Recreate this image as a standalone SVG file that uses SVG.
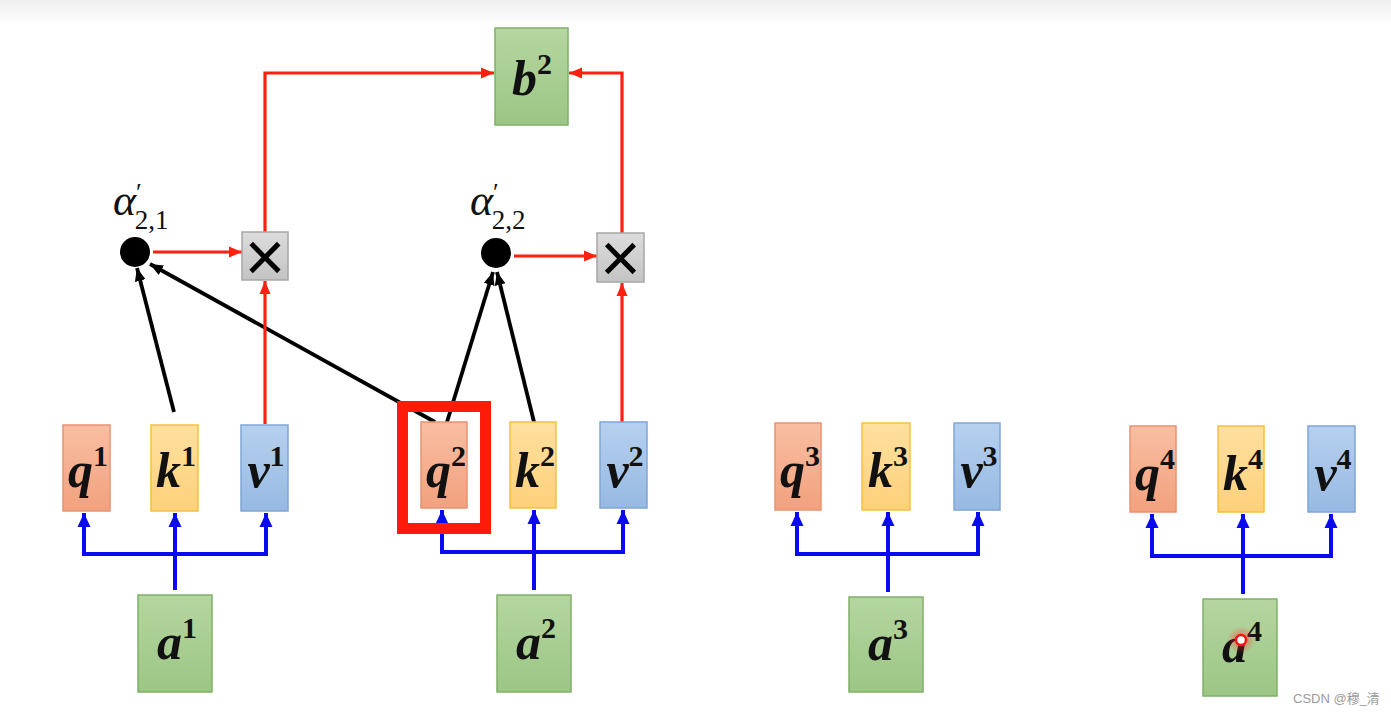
<svg xmlns="http://www.w3.org/2000/svg" width="1391" height="714" viewBox="0 0 1391 714">
<defs>
<linearGradient id="gTop" x1="0" y1="0" x2="0" y2="1"><stop offset="0" stop-color="#efefef"/><stop offset="1" stop-color="#ffffff"/></linearGradient>
<linearGradient id="gQ" x1="0" y1="0" x2="0" y2="1"><stop offset="0" stop-color="#f9bea2"/><stop offset="1" stop-color="#f2a17e"/></linearGradient>
<linearGradient id="gK" x1="0" y1="0" x2="0" y2="1"><stop offset="0" stop-color="#ffe0a0"/><stop offset="1" stop-color="#fdd07a"/></linearGradient>
<linearGradient id="gV" x1="0" y1="0" x2="0" y2="1"><stop offset="0" stop-color="#b6d0ef"/><stop offset="1" stop-color="#97b9e2"/></linearGradient>
<linearGradient id="gA" x1="0" y1="0" x2="0" y2="1"><stop offset="0" stop-color="#b5d6a0"/><stop offset="1" stop-color="#9cc685"/></linearGradient>
<linearGradient id="gX" x1="0" y1="0" x2="0" y2="1"><stop offset="0" stop-color="#dcdcdc"/><stop offset="1" stop-color="#c4c4c4"/></linearGradient>
<radialGradient id="gGlow"><stop offset="0" stop-color="#ff3030" stop-opacity="0.6"/><stop offset="1" stop-color="#ff3030" stop-opacity="0"/></radialGradient>
<marker id="aBlue" markerUnits="userSpaceOnUse" markerWidth="16" markerHeight="16" viewBox="0 0 16 16" refX="14" refY="8" orient="auto"><path d="M0,1.5 L14,8 L0,14.5 Z" fill="#0a0af0"/></marker>
<marker id="aRed" markerUnits="userSpaceOnUse" markerWidth="14" markerHeight="14" viewBox="0 0 14 14" refX="13" refY="7" orient="auto"><path d="M0,1.5 L13,7 L0,12.5 Z" fill="#ff2010"/></marker>
<marker id="aBlack" markerUnits="userSpaceOnUse" markerWidth="14" markerHeight="14" viewBox="0 0 14 14" refX="13" refY="7" orient="auto"><path d="M0,1.5 L13,7 L0,12.5 Z" fill="#000"/></marker>
</defs>
<style>
.q{fill:url(#gQ);stroke:#e89372;stroke-width:1.5}
.k{fill:url(#gK);stroke:#f5c040;stroke-width:1.5}
.v{fill:url(#gV);stroke:#7ea6d6;stroke-width:1.5}
.a{fill:url(#gA);stroke:#80b068;stroke-width:1.5}
.x{fill:url(#gX);stroke:#a6a6a6;stroke-width:1.5}
.lbl{font-family:"Liberation Serif",serif;font-weight:bold;fill:#111;text-anchor:middle}
.let{font-style:italic;font-size:50px}
.sup{font-style:normal;font-size:30px}
.blue{fill:none;stroke:#0a0af0;stroke-width:4}
.red{fill:none;stroke:#ff2010;stroke-width:3.2}
.blk{fill:none;stroke:#000;stroke-width:3.8}
.alpha{font-family:"Liberation Serif",serif;fill:#111;font-size:27px}
.mul{font-family:"Liberation Sans",sans-serif;font-size:70px;fill:#000;text-anchor:middle}
</style>
<rect x="0" y="0" width="1391" height="714" fill="#fff"/>
<rect x="0" y="0" width="1391" height="26" fill="url(#gTop)"/>

<g id="connectors">
<path class="blue" d="M175,590 V513" marker-end="url(#aBlue)"/>
<path class="blue" d="M84,554 H266"/>
<path class="blue" d="M84,556 V513" marker-end="url(#aBlue)"/>
<path class="blue" d="M266,556 V513" marker-end="url(#aBlue)"/>
<path class="blue" d="M534,590 V510" marker-end="url(#aBlue)"/>
<path class="blue" d="M442,552 H623"/>
<path class="blue" d="M442,554 V510" marker-end="url(#aBlue)"/>
<path class="blue" d="M623,554 V510" marker-end="url(#aBlue)"/>
<path class="blue" d="M888,592 V512" marker-end="url(#aBlue)"/>
<path class="blue" d="M797,554 H978"/>
<path class="blue" d="M797,556 V512" marker-end="url(#aBlue)"/>
<path class="blue" d="M978,556 V512" marker-end="url(#aBlue)"/>
<path class="blue" d="M1243,594 V514" marker-end="url(#aBlue)"/>
<path class="blue" d="M1152,556 H1331"/>
<path class="blue" d="M1152,558 V514" marker-end="url(#aBlue)"/>
<path class="blue" d="M1331,558 V514" marker-end="url(#aBlue)"/>
<path class="blk" d="M174,412 L137,268" marker-end="url(#aBlack)"/>
<path class="blk" d="M435,422 L150,264" marker-end="url(#aBlack)"/>
<path class="blk" d="M447,422 L493,272" marker-end="url(#aBlack)"/>
<path class="blk" d="M534,422 L497,272" marker-end="url(#aBlack)"/>
<path class="red" d="M153,252 H242" marker-end="url(#aRed)"/>
<path class="red" d="M514,256 H597" marker-end="url(#aRed)"/>
<path class="red" d="M265,424 V281" marker-end="url(#aRed)"/>
<path class="red" d="M622,422 V283" marker-end="url(#aRed)"/>
<path class="red" d="M265,232 V73 H494" marker-end="url(#aRed)"/>
<path class="red" d="M622,233 V73 H569" marker-end="url(#aRed)"/>
</g>

<g id="b2"><rect class="a" x="495" y="28" width="73" height="97"/><text class="lbl" x="532" y="95"><tspan class="let">b</tspan><tspan class="sup" dy="-21">2</tspan></text></g>

<g id="alpha21"><circle cx="135" cy="252" r="15" fill="#000"/>
<text class="alpha" x="113" y="215"><tspan font-size="44" font-style="italic">α</tspan><tspan font-size="26" dy="-14">′</tspan><tspan dx="-7" dy="28">2,1</tspan></text></g>
<g id="alpha22"><circle cx="496" cy="253" r="15" fill="#000"/>
<text class="alpha" x="470" y="215"><tspan font-size="44" font-style="italic">α</tspan><tspan font-size="26" dy="-14">′</tspan><tspan dx="-7" dy="28">2,2</tspan></text></g>

<g id="mul1"><rect class="x" x="242" y="232" width="46" height="48"/><text class="mul" x="265" y="281">×</text></g>
<g id="mul2"><rect class="x" x="597" y="233" width="47" height="49"/><text class="mul" x="620.5" y="282">×</text></g>

<g id="q1"><rect class="q" x="63" y="425" width="47" height="86"/><text class="lbl" x="88" y="487"><tspan class="let">q</tspan><tspan class="sup" dy="-21">1</tspan></text></g>
<g id="k1"><rect class="k" x="151" y="425" width="47" height="86"/><text class="lbl" x="176" y="487"><tspan class="let">k</tspan><tspan class="sup" dy="-21">1</tspan></text></g>
<g id="v1"><rect class="v" x="241" y="425" width="47" height="86"/><text class="lbl" x="266" y="487"><tspan class="let">v</tspan><tspan class="sup" dy="-21">1</tspan></text></g>
<g id="a1"><rect class="a" x="138" y="595" width="74" height="97"/><text class="lbl" x="177" y="659"><tspan class="let">a</tspan><tspan class="sup" dy="-21">1</tspan></text></g>

<g id="q2"><rect class="q" x="421" y="422" width="46" height="86"/><text class="lbl" x="446" y="487"><tspan class="let">q</tspan><tspan class="sup" dy="-21">2</tspan></text></g>
<g id="k2"><rect class="k" x="510" y="422" width="46" height="86"/><text class="lbl" x="535" y="487"><tspan class="let">k</tspan><tspan class="sup" dy="-21">2</tspan></text></g>
<g id="v2"><rect class="v" x="600" y="422" width="47" height="86"/><text class="lbl" x="625" y="487"><tspan class="let">v</tspan><tspan class="sup" dy="-21">2</tspan></text></g>
<g id="a2"><rect class="a" x="497" y="595" width="74" height="97"/><text class="lbl" x="536" y="659"><tspan class="let">a</tspan><tspan class="sup" dy="-21">2</tspan></text></g>

<g id="highlight"><rect x="402.5" y="406.5" width="83" height="122" fill="none" stroke="#ff1a0a" stroke-width="11"/></g>

<g id="q3"><rect class="q" x="775" y="423" width="46" height="87"/><text class="lbl" x="800" y="487"><tspan class="let">q</tspan><tspan class="sup" dy="-21">3</tspan></text></g>
<g id="k3"><rect class="k" x="862" y="423" width="48" height="87"/><text class="lbl" x="888" y="487"><tspan class="let">k</tspan><tspan class="sup" dy="-21">3</tspan></text></g>
<g id="v3"><rect class="v" x="954" y="423" width="46" height="87"/><text class="lbl" x="979" y="487"><tspan class="let">v</tspan><tspan class="sup" dy="-21">3</tspan></text></g>
<g id="a3"><rect class="a" x="849" y="597" width="74" height="95"/><text class="lbl" x="888" y="660"><tspan class="let">a</tspan><tspan class="sup" dy="-21">3</tspan></text></g>

<g id="q4"><rect class="q" x="1130" y="426" width="46" height="86"/><text class="lbl" x="1155" y="490"><tspan class="let">q</tspan><tspan class="sup" dy="-21">4</tspan></text></g>
<g id="k4"><rect class="k" x="1218" y="426" width="46" height="86"/><text class="lbl" x="1243" y="490"><tspan class="let">k</tspan><tspan class="sup" dy="-21">4</tspan></text></g>
<g id="v4"><rect class="v" x="1308" y="426" width="47" height="86"/><text class="lbl" x="1333" y="490"><tspan class="let">v</tspan><tspan class="sup" dy="-21">4</tspan></text></g>
<g id="a4"><rect class="a" x="1203" y="599" width="74" height="97"/><text class="lbl" x="1242" y="662"><tspan class="let">a</tspan><tspan class="sup" dy="-21">4</tspan></text></g>

<g id="cursor"><circle cx="1241" cy="640" r="14" fill="url(#gGlow)"/><circle cx="1241" cy="640" r="5" fill="#fff" stroke="#ff1010" stroke-width="2.5"/></g>
<text x="1293" y="703" font-family="'Liberation Sans','Noto Sans CJK SC',sans-serif" font-size="13" fill="#9a9a9a">CSDN @穆_清</text>
</svg>
